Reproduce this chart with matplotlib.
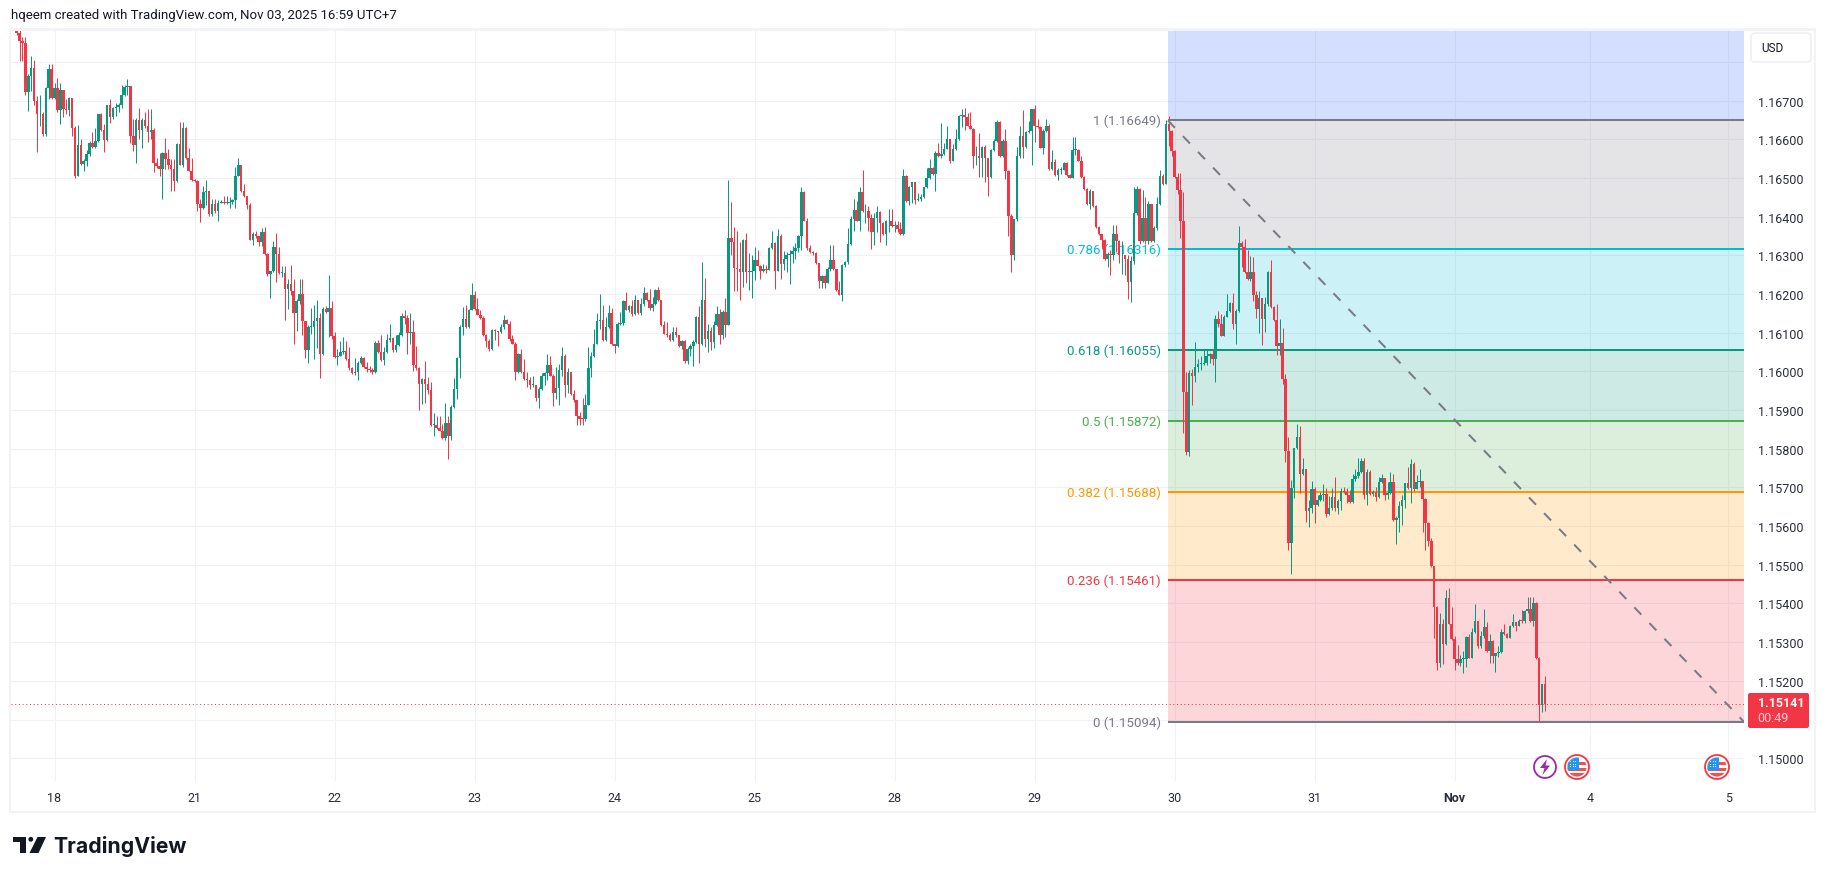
"""EURUSD 30m chart with a fib retracement, TradingView look."""
import matplotlib
matplotlib.use("Agg")
import matplotlib.pyplot as plt
from matplotlib.patches import Circle, FancyBboxPatch, Polygon, Rectangle
import numpy as np

plt.rcParams["font.family"] = ["Roboto", "DejaVu Sans"]

BASE = 1.15  # candle lists are in points (1e-5) above this

closes = [
    1875,1854,1849,1722,1765,1785,1699,1665,1665,1613,
    1733,1781,1708,1732,1675,1727,1678,1676,1706,1630,
    1506,1586,1536,1543,1562,1592,1581,1596,1665,1624,
    1599,1688,1659,1682,1685,1688,1716,1736,1738,1609,
    1586,1649,1624,1650,1635,1618,1624,1540,1532,1523,
    1566,1549,1534,1523,1493,1589,1534,1630,1551,1519,
    1495,1493,1433,1422,1463,1466,1407,1433,1414,1435,
    1437,1435,1435,1437,1443,1506,1534,1467,1453,1431,
    1341,1356,1350,1334,1360,1304,1252,1261,1321,1304,
    1255,1255,1212,1226,1208,1150,1182,1201,1130,1055,
    1115,1115,1131,1139,1045,1162,1154,1165,1092,1037,
    1040,1051,1053,1032,1010,995,998,1021,1036,1012,
    1006,1004,999,1074,1050,1030,1050,1082,1086,1055,
    1068,1094,1144,1139,1099,1102,1016,1010,968,980,
    968,951,862,862,855,847,828,866,834,907,954,
    1034,1115,1135,1114,1160,1199,1162,1147,1139,1094,
    1079,1057,1106,1104,1102,1114,1134,1124,1083,1072,
    999,1045,999,980,978,965,966,931,954,989,
    997,1016,989,945,958,1004,1040,965,998,941,
    925,884,878,877,914,1009,1040,1071,1131,1134,
    1081,1115,1150,1071,1066,1122,1125,1181,1160,1169,
    1149,1185,1151,1175,1203,1184,1164,1175,1211,1184,
    1119,1098,1094,1081,1102,1095,1065,1080,1027,1058,1066,
    1076,1140,1070,1184,1085,1105,1076,1119,1149,1094,
    1155,1119,1344,1334,1267,1264,1258,1340,1257,1257,
    1259,1289,1274,1259,1265,1262,1319,1332,1261,1351,
    1278,1290,1300,1305,1312,1318,1351,1465,1390,1319,1308,
    1306,1281,1235,1246,1229,1264,1289,1264,1210,1199,
    1276,1283,1330,1394,1417,1390,1463,1414,1414,1396,
    1360,1398,1413,1384,1355,1388,1388,1375,1380,1368,1355,
    1506,1441,1476,1489,1443,1447,1450,1476,1499,1527,
    1510,1566,1556,1562,1576,1600,1545,1575,1600,1660,
    1662,1659,1636,1628,1556,1556,1553,1581,1553,1503,
    1572,1596,1645,1556,1596,1519,1403,1300,1394,1556,
    1609,1581,1618,1622,1680,1636,1632,1579,1622,1636,
    1523,1542,1508,1522,1522,1539,1508,1501,1573,1573,
    1545,1502,1472,1433,1467,1427,1373,1355,1340,1291,
    1303,1300,1355,1338,1300,1300,1290,1231,1285,1411,
    1473,1338,1398,1338,1433,1338,1370,1433,1506,1486,
    1639,1623,1570,1503,1469,1389,947,792,996,987,
    1011,1020,1020,1022,1041,1046,1031,1136,1123,1093,
    1140,1156,1177,1124,1156,1332,1323,1256,1239,1256,
    1199,1162,1190,1136,1175,1256,1166,1132,1067,1073,
    980,794,556,698,801,831,735,747,640,648,
    695,655,668,681,683,632,646,676,646,664,
    692,689,681,662,721,730,741,769,681,739,
    682,689,675,715,724,681,685,715,616,620,
    651,668,711,698,762,695,715,716,670,608,
    562,496,391,245,346,294,415,348,307,256,
    245,256,256,313,260,326,355,290,316,340,
    277,303,263,273,275,327,320,312,342,353,
    343,356,355,380,385,356,402,258,138,191,141,
]
highs = [
    1884,1890,1864,1864,1770,1815,1806,1712,1716,1672,
    1736,1794,1794,1745,1759,1745,1729,1704,1710,1708,
    1635,1638,1600,1549,1573,1596,1618,1630,1667,1669,
    1639,1688,1705,1685,1693,1695,1742,1742,1755,1738,
    1652,1655,1682,1656,1672,1678,1678,1630,1553,1566,
    1567,1605,1576,1549,1549,1592,1645,1645,1632,1579,
    1551,1497,1495,1446,1480,1495,1467,1446,1446,1444,
    1444,1454,1454,1450,1446,1529,1553,1534,1484,1454,
    1435,1360,1364,1351,1370,1373,1306,1261,1338,1358,
    1321,1272,1272,1238,1275,1240,1188,1240,1240,1130,
    1121,1165,1172,1184,1150,1167,1169,1250,1181,1102,
    1058,1080,1089,1080,1064,1012,1034,1028,1040,1038,
    1025,1015,1010,1080,1082,1095,1063,1097,1122,1089,
    1095,1102,1150,1160,1146,1152,1132,1066,1012,982,
    1026,986,972,892,886,884,865,919,886,913,982,
    1038,1121,1168,1172,1162,1229,1208,1190,1160,1143,
    1096,1085,1111,1111,1104,1123,1147,1135,1131,1095,
    1075,1048,1059,1033,999,985,989,966,959,995,
    999,1044,1040,993,1012,1020,1064,1045,1008,998,
    952,927,896,932,942,1064,1051,1109,1152,1201,
    1173,1140,1173,1163,1071,1127,1155,1184,1205,1171,
    1184,1198,1186,1190,1218,1205,1212,1192,1214,1218,
    1184,1130,1128,1100,1115,1115,1095,1082,1082,1064,1072,
    1081,1143,1169,1284,1242,1122,1115,1130,1169,1162,
    1158,1190,1495,1439,1373,1362,1334,1342,1357,1306,
    1300,1321,1314,1276,1277,1275,1322,1362,1334,1368,
    1355,1312,1310,1315,1325,1331,1353,1478,1467,1398,1328,
    1312,1310,1281,1250,1250,1270,1326,1327,1266,1235,
    1278,1285,1371,1403,1447,1441,1476,1520,1433,1428,
    1407,1411,1429,1414,1386,1392,1420,1420,1390,1388,1387,
    1523,1508,1480,1490,1490,1462,1459,1478,1525,1549,
    1530,1570,1592,1642,1592,1635,1602,1587,1628,1664,
    1680,1682,1669,1672,1630,1583,1616,1583,1585,1536,
    1575,1600,1650,1648,1600,1626,1521,1407,1394,1581,
    1635,1675,1622,1648,1680,1690,1652,1634,1626,1652,
    1640,1573,1550,1525,1530,1541,1541,1510,1607,1607,
    1576,1558,1506,1474,1473,1467,1430,1375,1355,1342,
    1308,1313,1380,1380,1340,1338,1302,1300,1298,1476,
    1480,1474,1470,1450,1440,1434,1376,1450,1520,1510,
    1649,1660,1625,1572,1512,1512,1463,999,1005,1007,
    1076,1033,1040,1057,1059,1048,1059,1146,1157,1149,
    1145,1200,1180,1203,1162,1377,1338,1342,1314,1299,
    1297,1209,1207,1190,1192,1260,1288,1170,1175,1136,
    1113,994,831,720,801,865,859,777,747,668,
    718,702,681,689,709,698,678,698,726,670,
    698,702,698,694,736,749,775,777,775,749,
    745,694,702,726,736,724,715,739,734,625,
    664,681,711,752,774,765,732,747,718,672,
    611,569,496,393,376,359,434,440,390,316,
    293,267,277,315,322,337,399,311,330,386,
    353,320,305,273,290,335,348,325,344,372,
    353,359,382,383,417,417,417,405,262,193,212,
]
lows = [
    1870,1804,1802,1714,1673,1725,1690,1568,1636,1608,
    1609,1704,1705,1705,1671,1639,1659,1665,1660,1609,
    1500,1506,1534,1519,1532,1557,1579,1579,1593,1622,
    1568,1596,1642,1654,1660,1672,1682,1712,1715,1590,
    1570,1538,1600,1579,1630,1593,1600,1516,1527,1506,
    1446,1523,1523,1467,1467,1489,1534,1530,1549,1519,
    1493,1490,1416,1386,1420,1430,1403,1403,1410,1390,
    1435,1433,1433,1424,1433,1422,1506,1465,1450,1420,
    1341,1328,1345,1324,1324,1302,1248,1191,1257,1231,
    1253,1245,1132,1162,1197,1071,1105,1174,1095,1036,
    1023,1098,1032,1060,982,1042,1150,1090,1085,1035,
    1018,1040,1045,1030,1004,993,992,978,1019,1010,
    999,998,993,997,1048,1028,1018,1048,1075,1050,
    1050,1066,1092,1122,1044,1072,1001,1005,901,916,
    918,943,860,833,850,845,826,822,773,822,905,
    930,982,1095,1112,1112,1159,1160,1145,1135,1092,
    1064,1053,1055,1082,1065,1100,1111,1122,1080,1070,
    978,997,997,978,961,955,960,924,906,952,
    965,977,987,912,928,914,989,935,944,939,
    921,862,862,862,873,914,985,1037,1071,1109,
    1079,1080,1113,1069,1047,1063,1120,1121,1158,1155,
    1143,1145,1149,1145,1170,1182,1160,1156,1173,1182,
    1117,1096,1089,1079,1080,1090,1063,1057,1023,1020,1040,
    1015,1074,1023,1068,1063,1050,1055,1060,1117,1072,
    1085,1089,1119,1300,1208,1208,1186,1218,1228,1210,
    1190,1236,1272,1240,1257,1255,1262,1317,1212,1259,
    1238,1262,1258,1225,1280,1290,1310,1315,1388,1315,1306,
    1300,1279,1215,1215,1215,1228,1261,1262,1208,1197,
    1181,1270,1278,1328,1362,1388,1364,1412,1384,1364,
    1317,1328,1360,1334,1353,1328,1360,1373,1360,1360,1353,
    1353,1439,1430,1436,1432,1440,1440,1448,1474,1497,
    1508,1467,1554,1553,1560,1574,1540,1543,1573,1598,
    1632,1625,1634,1626,1525,1535,1504,1504,1490,1453,
    1500,1570,1594,1554,1554,1497,1351,1258,1289,1390,
    1553,1553,1578,1616,1533,1593,1630,1577,1562,1620,
    1521,1521,1506,1496,1510,1520,1506,1499,1499,1560,
    1543,1500,1470,1430,1420,1425,1371,1353,1317,1289,
    1270,1250,1287,1310,1280,1252,1250,1188,1180,1278,
    1405,1330,1335,1330,1330,1335,1335,1365,1430,1483,
    1484,1583,1557,1500,1458,1345,840,784,781,913,
    974,999,1005,1016,1016,1022,1018,973,1115,1091,
    1091,1140,1155,1110,1072,1153,1269,1254,1237,1235,
    1183,1139,1100,1069,1102,1170,1164,1130,1043,1043,
    967,765,539,475,672,799,685,733,610,597,
    633,608,653,664,666,623,630,642,640,632,
    642,685,660,660,660,717,725,738,670,655,
    680,677,666,673,712,668,670,683,614,553,
    584,603,646,696,659,690,696,700,586,539,
    548,494,310,227,236,243,293,346,305,227,
    240,239,221,237,258,258,324,285,285,310,
    275,247,247,224,262,273,318,310,310,340,
    329,342,350,350,375,352,342,256,96,120,122,
]
first_open = 1890

day_labels = ["18", "21", "22", "23", "24", "25", "28", "29", "30", "31", "Nov", "4", "5"]
day_bars = [13, 61, 109, 157, 205, 253, 301, 349, 397, 445, 493, 539.3, 586.8]
price_ticks = [1.150 + i * 0.001 for i in range(19)]
hidden_ticks = [1, 18]  # 1.151 sits under the price box, 1.168 under the USD button

fib_ratios = ["1", "0.786", "0.618", "0.5", "0.382", "0.236", "0"]
fib_prices = [1.16649, 1.16316, 1.16055, 1.15872, 1.15688, 1.15461, 1.15094]
fib_colors = ["#787b86", "#00bcd4", "#089981", "#4caf50", "#ff9800", "#f23645", "#787b86"]
band_colors = ["#2962ff", "#787b86", "#00bcd4", "#089981", "#4caf50", "#ff9800", "#f23645"]
fib_start_bar = 394.7
last_price = 1.15141

UP, DOWN = "#089981", "#f23645"
W, H = 1826, 879


def px_axes(x0, y0, x1, y1):
    return [x0 / W, 1 - y1 / H, (x1 - x0) / W, (y1 - y0) / H]


c = BASE + np.array(closes) * 1e-5
h = BASE + np.array(highs) * 1e-5
l = BASE + np.array(lows) * 1e-5
o = np.r_[BASE + first_open * 1e-5, c[:-1]]
idx = np.arange(len(c))
colors = [UP if a >= b else DOWN for a, b in zip(c, o)]

fig = plt.figure(figsize=(W / 100, H / 100), dpi=100, facecolor="white")
ax = fig.add_axes(px_axes(11, 31, 1744, 782))
ax.set_xlim(-1.93, 592.2)
ax.set_ylim(1.14941, 1.16883)
for s in ax.spines.values():
    s.set_visible(False)
ax.set_axisbelow(True)
ax.grid(True, color="#f0f1f4", lw=0.8)

ax.yaxis.tick_right()
tick_text = ["" if i in hidden_ticks else f"{p:.5f}" for i, p in enumerate(price_ticks)]
ax.set_yticks(price_ticks, tick_text)
ax.set_xticks(day_bars, day_labels)
ax.tick_params(axis="y", length=0, pad=10, labelsize=9, labelcolor="#2a2e39")
ax.tick_params(axis="x", length=0, pad=7, labelsize=9, labelcolor="#2a2e39")
ax.get_xticklabels()[10].set_fontweight("bold")

# fib bands, one between each pair of levels plus the blue one on top
x_end = ax.get_xlim()[1]
tops = [ax.get_ylim()[1]] + fib_prices[:-1]
for top, bot, col in zip(tops, fib_prices, band_colors):
    ax.fill_between([fib_start_bar, x_end], bot, top, color=col, alpha=0.2, lw=0, zorder=1)
for ratio, price, col in zip(fib_ratios, fib_prices, fib_colors):
    ax.plot([fib_start_bar, x_end], [price, price], color=col, lw=1.45, zorder=2,
            solid_capstyle="butt")
    ax.annotate(f"{ratio} ({price:.5f})", xy=(fib_start_bar, price), xytext=(-5, 0),
                textcoords="offset points", ha="right", va="center", color=col,
                fontsize=9.5, zorder=1.5)

ax.plot([fib_start_bar, x_end], [fib_prices[0], fib_prices[-1]], color="#787b86", lw=1.45,
        ls=(0, (5, 5.8)), zorder=5)
ax.axhline(last_price, color=DOWN, lw=0.72, ls=(0, (1, 2.7)), zorder=2)

body_lo = np.minimum(o, c)
body_hi = np.maximum(np.abs(c - o), 0.00002)
ax.vlines(idx, l, h, color=colors, lw=0.72, zorder=3)
ax.bar(idx, body_hi, bottom=body_lo, width=0.85, color=colors, lw=0, zorder=4)

# everything that is not chart data sits on an overlay in pixel coordinates
ov = fig.add_axes([0, 0, 1, 1], zorder=10)
ov.set_xlim(0, W)
ov.set_ylim(H, 0)
ov.axis("off")
ov.patch.set_alpha(0)

PANEL = "#f2f3f5"
ov.add_patch(Rectangle((9, 29), 1807, 2.5, color=PANEL, lw=0))
ov.add_patch(Rectangle((9, 812), 1807, 2.5, color=PANEL, lw=0))
ov.add_patch(Rectangle((9, 29), 2.2, 785, color=PANEL, lw=0))
ov.add_patch(Rectangle((1814, 29), 2.2, 785, color=PANEL, lw=0))

ov.text(11, 16, "hqeem created with TradingView.com, Nov 03, 2025 16:59 UTC+7", fontsize=9.5,
        color="#131722", va="center")

ov.add_patch(FancyBboxPatch((1753, 36), 56, 25, boxstyle="round,pad=2,rounding_size=4",
                            fc="white", ec="#eef0f3", lw=1.2))
ov.text(1761, 48.5, "USD", fontsize=8.5, color="#131722", va="center")

ov.add_patch(FancyBboxPatch((1749, 695), 59, 33, boxstyle="round,pad=1,rounding_size=2",
                            fc=DOWN, ec="none"))
ov.text(1758, 704, "1.15141", fontsize=9, color="white", va="center", fontweight="bold")
ov.text(1757, 719, "00:49", fontsize=9, color="#fbd6da", va="center")

# event markers under the candles
ring = Circle((1545, 768), 11, fc="white", ec="#9c27b0", lw=1.3)
ov.add_patch(ring)
ov.add_patch(Polygon([(1547, 760), (1540, 769), (1544.5, 769), (1542.5, 776), (1550, 766.5),
                      (1545.5, 766.5)], fc="#9c27b0", lw=0))


def flag(cx, cy):
    ring = Circle((cx, cy), 12, fc="white", ec="#f23645", lw=1.3)
    ov.add_patch(ring)
    clip = Circle((cx, cy), 9.6, transform=ov.transData)
    parts = [
        Rectangle((cx - 10, cy - 5.5), 20, 3.2, fc="#ef5350", lw=0),
        Rectangle((cx - 10, cy + 1), 20, 3.2, fc="#ef5350", lw=0),
        Rectangle((cx - 10, cy + 6.5), 20, 4, fc="#ef5350", lw=0),
        Rectangle((cx - 10, cy - 10), 11.5, 12.5, fc="#2196f3", lw=0),
    ]
    for part in parts:
        ov.add_patch(part)
        part.set_clip_path(clip)
    for dx in (-7, -4.5, -2):
        for dy in (-6, -3.5, -1):
            ov.add_patch(Rectangle((cx + dx, cy + dy), 1, 1, fc="white", lw=0))


flag(1577, 768)
flag(1717, 768)

# logo
LOGO = "#131722"
ov.add_patch(Polygon([(13, 838), (26, 838), (26, 854), (19.5, 854), (19.5, 843), (13, 843)],
                     fc=LOGO, lw=0))
ov.add_patch(Circle((30.8, 840.3), 2.4, fc=LOGO, lw=0))
ov.add_patch(Polygon([(37.5, 838), (46, 838), (38.5, 854), (29.5, 854)], fc=LOGO, lw=0))
ov.text(53, 847, "TradingView", fontsize=15.3, color=LOGO, va="center", family=["Inter", "DejaVu Sans"],
        fontweight="bold")

fig.savefig("out.png", dpi=100, facecolor="white")
